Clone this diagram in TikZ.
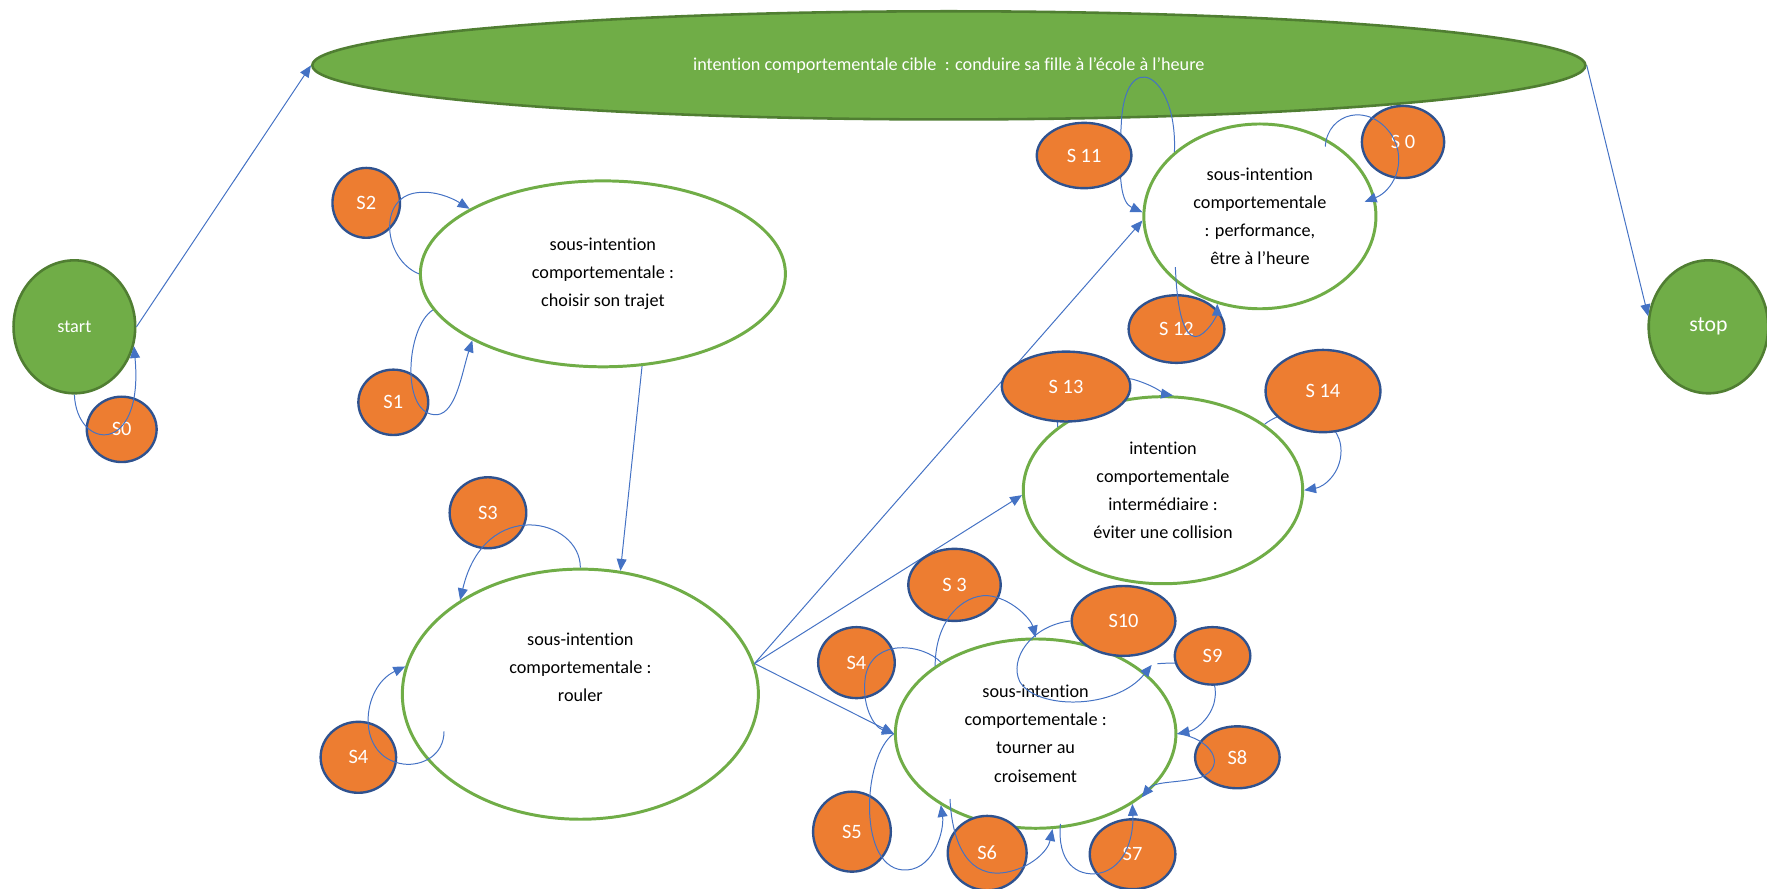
\documentclass[tikz,border=0pt]{standalone}
\usepackage{fontspec}
\setmainfont{Carlito}[Ligatures=NoCommon]
\usetikzlibrary{arrows.meta,shapes.geometric}
\definecolor{leaf}{HTML}{70AD47}
\definecolor{leafdark}{HTML}{507E32}
\definecolor{carrot}{HTML}{ED7D31}
\definecolor{navy}{HTML}{2F528F}
\definecolor{wire}{HTML}{4472C4}
\begin{document}
\begin{tikzpicture}[x=0.02cm, y=-0.02cm,
  goal/.style={ellipse, draw=leaf, line width=1.5pt, fill=white, inner sep=0pt, align=center, font=\fontsize{9.2}{14.2}\selectfont},
  terminal/.style={ellipse, draw=leafdark, line width=1.3pt, fill=leaf, text=white, inner sep=0pt},
  stateball/.style={ellipse, draw=navy, line width=1.2pt, fill=carrot, text=white, inner sep=0pt, font=\fontsize{10.3}{12}\selectfont},
  link/.style={wire, line width=0.5pt, -{Triangle[length=6pt,width=5pt]}}]
\useasboundingbox (0,0) rectangle (1568,788);

\node[terminal, minimum width=22.6cm, minimum height=1.92cm, font=\fontsize{9.2}{11}\selectfont] (cible) at (842,58) {intention comportementale cible~ : conduire sa fille à l'école à l'heure};
\node[terminal, minimum width=2.16cm, minimum height=2.36cm, font=\fontsize{9.2}{11}\selectfont] (start) at (66,290) {start};
\node[terminal, minimum width=2.12cm, minimum height=2.36cm, font=\fontsize{11}{13}\selectfont] (stop) at (1516,290) {stop};

\node[goal, minimum width=6.48cm, minimum height=3.3cm] (trajet) at (535,243) {sous-intention\\comportementale :\\choisir son trajet};
\node[goal, minimum width=6.32cm, minimum height=4.44cm, label={[align=center, font=\fontsize{9.2}{14.2}\selectfont, yshift=0.48cm]center:{sous-intention\\comportementale :\\rouler}}] (rouler) at (515,616) {};
\node[goal, minimum width=4.12cm, minimum height=3.28cm] (perf) at (1118,192) {sous-intention\\comportementale\\: performance,\\être à l'heure};
\node[goal, minimum width=4.96cm, minimum height=3.32cm] (inter) at (1032,435) {intention\\comportementale\\intermédiaire :\\éviter une collision};
\node[goal, minimum width=4.98cm, minimum height=3.36cm] (tourner) at (919,651) {sous-intention\\comportementale :\\tourner au\\croisement};

\draw[link] (start.east) -- (cible.west);
\draw[link] (cible.east) -- (stop.170);
\draw[link] (trajet.-67) -- (rouler.72);
\draw[link] (rouler.10) -- (perf.182);
\draw[link] (rouler.10) -- (inter.182);
\draw[link] (rouler.10) -- (tourner.west);
\draw[link] (perf.143) .. controls (1045,65) and (998,40) .. (995,110) .. controls (992,160) and (995,180) .. (perf.178);
\draw[link] (inter.149) .. controls (935,340) and (990,330) .. (1010,338) .. controls (1025,343) and (1035,350) .. (inter.84);
\draw[link] (inter.33) .. controls (1150,355) and (1190,370) .. (1190,400) .. controls (1190,420) and (1175,432) .. (inter.east);
\draw[link] ([shift={(108,-62)}]tourner.center) .. controls (1060,586) and (1085,595) .. (1077,625) .. controls (1072,640) and (1060,648) .. (tourner.east);

\node[stateball, minimum width=1.24cm, minimum height=1.16cm] (s0a) at (108,381) {S0};
\node[stateball, minimum width=1.2cm, minimum height=1.24cm] (s2) at (325,180) {S2};
\node[stateball, minimum width=1.24cm, minimum height=1.16cm] (s1) at (349,357) {S1};
\node[stateball, minimum width=1.36cm, minimum height=1.26cm] (s3a) at (433,455) {S3};
\node[stateball, minimum width=1.34cm, minimum height=1.26cm] (s4a) at (318,672) {S4};
\node[stateball, minimum width=1.68cm, minimum height=1.16cm] (s11) at (962,138) {S 11};
\node[stateball, minimum width=1.46cm, minimum height=1.28cm] (s0b) at (1245,126) {S 0};
\node[stateball, minimum width=1.7cm, minimum height=1.2cm] (s12) at (1044,292) {S 12};
\node[stateball, minimum width=2.28cm, minimum height=1.24cm] (s13) at (946,343) {S 13};
\node[stateball, minimum width=2.04cm, minimum height=1.46cm] (s14) at (1174,347) {S 14};
\node[stateball, minimum width=1.64cm, minimum height=1.28cm] (s3b) at (847,519) {S 3};
\node[stateball, minimum width=1.36cm, minimum height=1.26cm] (s4b) at (760,588) {S4};
\node[stateball, minimum width=1.84cm, minimum height=1.24cm] (s10) at (997,551) {S10};
\node[stateball, minimum width=1.34cm, minimum height=1.02cm] (s9) at (1076,582) {S9};
\node[stateball, minimum width=1.5cm, minimum height=1.1cm] (s8) at (1098,672) {S8};
\node[stateball, minimum width=1.52cm, minimum height=1.24cm] (s7) at (1005,758) {S7};
\node[stateball, minimum width=1.4cm, minimum height=1.32cm] (s6) at (876,757) {S6};
\node[stateball, minimum width=1.38cm, minimum height=1.42cm] (s5) at (756,738) {S5};

\draw[link] (start.south) .. controls (68,400) and (128,405) .. (start.-18);
\draw[link] (trajet.west) .. controls (340,230) and (335,175) .. (370,171) .. controls (385,169) and (400,175) .. (trajet.154);
\draw[link] (trajet.192) .. controls (360,290) and (355,370) .. (388,368) .. controls (405,366) and (410,330) .. (trajet.207);
\draw[link] (rouler.north) .. controls (515,460) and (430,440) .. (rouler.142);
\draw[link] ([shift={(-121,33)}]rouler.center) .. controls (394,670) and (375,680) .. (358,678) .. controls (315,672) and (320,610) .. (rouler.171);
\draw[link] (tourner.146) .. controls (830,545) and (860,525) .. (880,529) .. controls (900,533) and (915,550) .. (tourner.north);
\draw[link] (tourner.143) .. controls (820,572) and (775,565) .. (768,600) .. controls (764,625) and (775,645) .. (tourner.west);
\draw[link] (tourner.west) .. controls (765,670) and (760,775) .. (805,772) .. controls (830,770) and (838,735) .. (tourner.217);
\draw[link] ([shift={(-76,58)}]tourner.center) .. controls (845,750) and (860,780) .. (893,774) .. controls (915,770) and (930,755) .. (tourner.-80);
\draw[link] ([shift={(22,80)}]tourner.center) .. controls (938,765) and (955,778) .. (975,775) .. controls (1000,770) and (1006,740) .. (tourner.-36);
\draw[link] (tourner.east) .. controls (1075,655) and (1090,680) .. (1065,690) .. controls (1045,695) and (1025,693) .. (tourner.-31);
\draw[link] (s10.west) .. controls (915,555) and (895,585) .. (905,605) .. controls (920,630) and (990,630) .. ([shift={(103,-61)}]tourner.center);
\draw[link] ([shift={(58,-62)}]perf.center) .. controls (1178,100) and (1215,90) .. (1235,120) .. controls (1250,145) and (1235,170) .. ([shift={(93,-13)}]perf.center);
\draw[link] ([shift={(-75,45)}]perf.center) .. controls (1045,290) and (1055,302) .. (1064,298) .. controls (1075,292) and (1080,278) .. (perf.-116);
\end{tikzpicture}
\end{document}
